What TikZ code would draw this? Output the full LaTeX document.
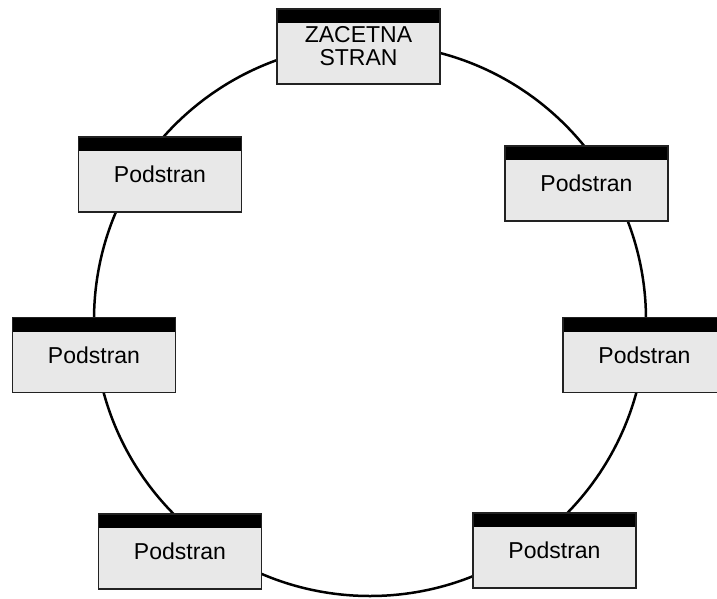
\documentclass[tikz,border=0pt]{standalone}
\usepackage{fontspec}
\setmainfont{Liberation Sans}
\definecolor{boxfill}{HTML}{E8E8E8}
\definecolor{boxedge}{HTML}{222222}
\begin{document}
\begin{tikzpicture}[x=1pt,y=-1pt,
  pagebox/.style={rectangle, draw=boxedge, line width=1.3pt, fill=boxfill,
    minimum width=163pt, minimum height=75pt, inner sep=0pt, align=center,
    font=\fontsize{23}{23}\selectfont,
    path picture={\fill[black] (path picture bounding box.north west) rectangle ([yshift=-14pt]path picture bounding box.north east);}},
  ring/.style={circle, draw=black, line width=2.5pt, minimum size=552pt, inner sep=0pt}]
\useasboundingbox (0,0) rectangle (717,599);
\node[ring] (ring) at (370,320) {};
\node[pagebox] (top) at (358.5,46.5) {};
\node[font=\fontsize{23}{23}\selectfont, align=center, inner sep=0pt, anchor=base] (toptxt) at (358.5,66) {ZACETNA\\STRAN};
\node[pagebox] (ul) at (160,174.5) {Podstran};
\node[pagebox] (ur) at (586.5,183.5) {Podstran};
\node[pagebox] (ml) at (94,355) {Podstran};
\node[pagebox] (mr) at (644.5,355) {Podstran};
\node[pagebox] (bl) at (180,551.5) {Podstran};
\node[pagebox] (br) at (554.5,550.5) {Podstran};
\end{tikzpicture}
\end{document}
